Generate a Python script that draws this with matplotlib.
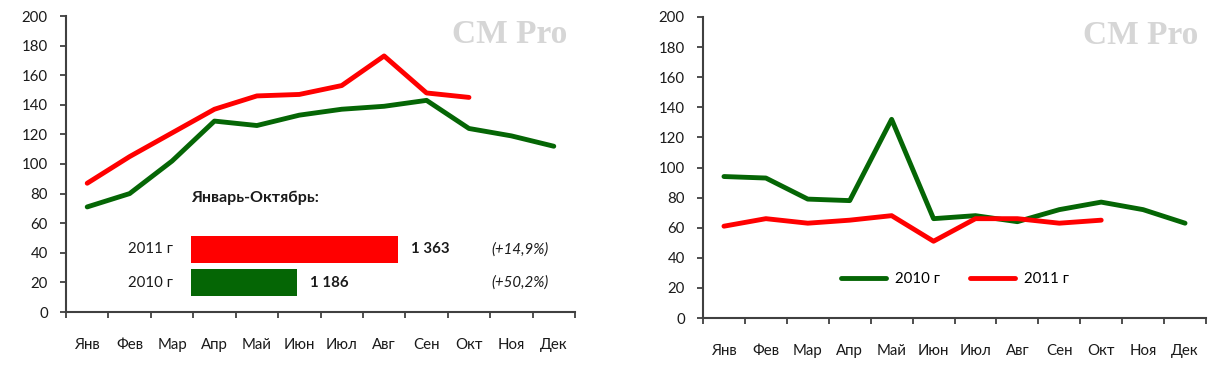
import matplotlib
matplotlib.use("Agg")
import matplotlib.pyplot as plt
import numpy as np

months = ["Янв", "Фев", "Мар", "Апр", "Май", "Июн", "Июл", "Авг", "Сен", "Окт", "Ноя", "Дек"]

# left chart
left_2010 = [71, 80, 102, 129, 126, 133, 137, 139, 143, 124, 119, 112]
left_2011 = [87, 105, 121, 137, 146, 147, 153, 173, 148, 145]

# right chart
right_2010 = [94, 93, 79, 78, 132, 66, 68, 64, 72, 77, 72, 63]
right_2011 = [61, 66, 63, 65, 68, 51, 66, 66, 63, 65]

# inset: January-October totals
ytd_labels = ["2010 г", "2011 г"]
ytd_values = [1186, 1363]
ytd_labels_val = ["1 186", "1 363"]
ytd_growth = ["(+50,2%)", "(+14,9%)"]

RED = "#ff0000"
GREEN = "#056605"
AXC = "#404040"
TXT = "#1a1a1a"
plt.rcParams["font.family"] = ["Lato", "DejaVu Sans"]

W, H = 1216, 366
fig = plt.figure(figsize=(W / 100, H / 100), dpi=100)


def px_box(x0, x1, ytop, ybot):
    return [x0 / W, 1 - ybot / H, (x1 - x0) / W, (ybot - ytop) / H]


def style(ax):
    x = np.arange(12)
    ax.set_xlim(-0.5, 11.5)
    ax.set_ylim(0, 200)
    ax.set_yticks(range(0, 201, 20))
    ax.set_xticks(x)
    ax.set_xticklabels(months)
    ax.set_xticks(np.arange(-0.5, 12, 1), minor=True)
    ax.tick_params(axis="x", which="major", length=0, pad=19, labelsize=10.8, colors=TXT)
    ax.tick_params(axis="x", which="minor", length=4, width=1.3, color=AXC, direction="out")
    ax.tick_params(axis="y", length=4, width=1.3, color=AXC, pad=9, labelsize=10.8, labelcolor=TXT)
    for s in ["top", "right"]:
        ax.spines[s].set_visible(False)
    for s in ["left", "bottom"]:
        ax.spines[s].set_color(AXC)
        ax.spines[s].set_linewidth(1.5)
    ax.text(0.985, 0.99, "CM Pro", transform=ax.transAxes, ha="right", va="top",
            family="Liberation Serif", fontweight="bold", fontsize=24, color="#d6d6d6")


# left chart
ax1 = fig.add_axes(px_box(66, 575, 16, 312))
style(ax1)
ax1.plot(np.arange(len(left_2010)), left_2010, color=GREEN, lw=3.5, solid_capstyle="round", zorder=3)
ax1.plot(np.arange(len(left_2011)), left_2011, color=RED, lw=3.5, solid_capstyle="round", zorder=3)

# inset bars
axb = fig.add_axes(px_box(191, 560, 230, 302))
axb.set_xlim(1000, 1647)
axb.set_ylim(-0.59, 1.59)
axb.barh([0, 1], [v - 1000 for v in ytd_values], left=1000, height=0.82, color=[GREEN, RED])
axb.axis("off")
for i, v in enumerate(ytd_values):
    axb.text(v + 22, i, ytd_labels_val[i], va="center", ha="left", fontsize=10.8, fontweight="bold", color=TXT)
    axb.text(-0.049, i, ytd_labels[i], transform=axb.get_yaxis_transform(), va="center", ha="right",
             fontsize=10.8, color=TXT)
    axb.text(0.97, i, ytd_growth[i], transform=axb.get_yaxis_transform(), va="center", ha="right",
             fontsize=10.8, style="italic", color=TXT)
axb.text(0, 1.45, "Январь-Октябрь:", transform=axb.transAxes, ha="left", va="center",
         fontsize=11.5, fontweight="bold", color=TXT)

# right chart
ax2 = fig.add_axes(px_box(703, 1206, 17, 318))
style(ax2)
ax2.plot(np.arange(len(right_2010)), right_2010, color=GREEN, lw=3.5, solid_capstyle="round", zorder=3, label="2010 г")
ax2.plot(np.arange(len(right_2011)), right_2011, color=RED, lw=3.5, solid_capstyle="round", zorder=3, label="2011 г")
ax2.legend(loc="center", bbox_to_anchor=(0.5, 0.128), ncol=2, frameon=False, fontsize=10.8,
           handlelength=3.0, handletextpad=0.6, columnspacing=2.0)

fig.savefig("out.png", dpi=100)
